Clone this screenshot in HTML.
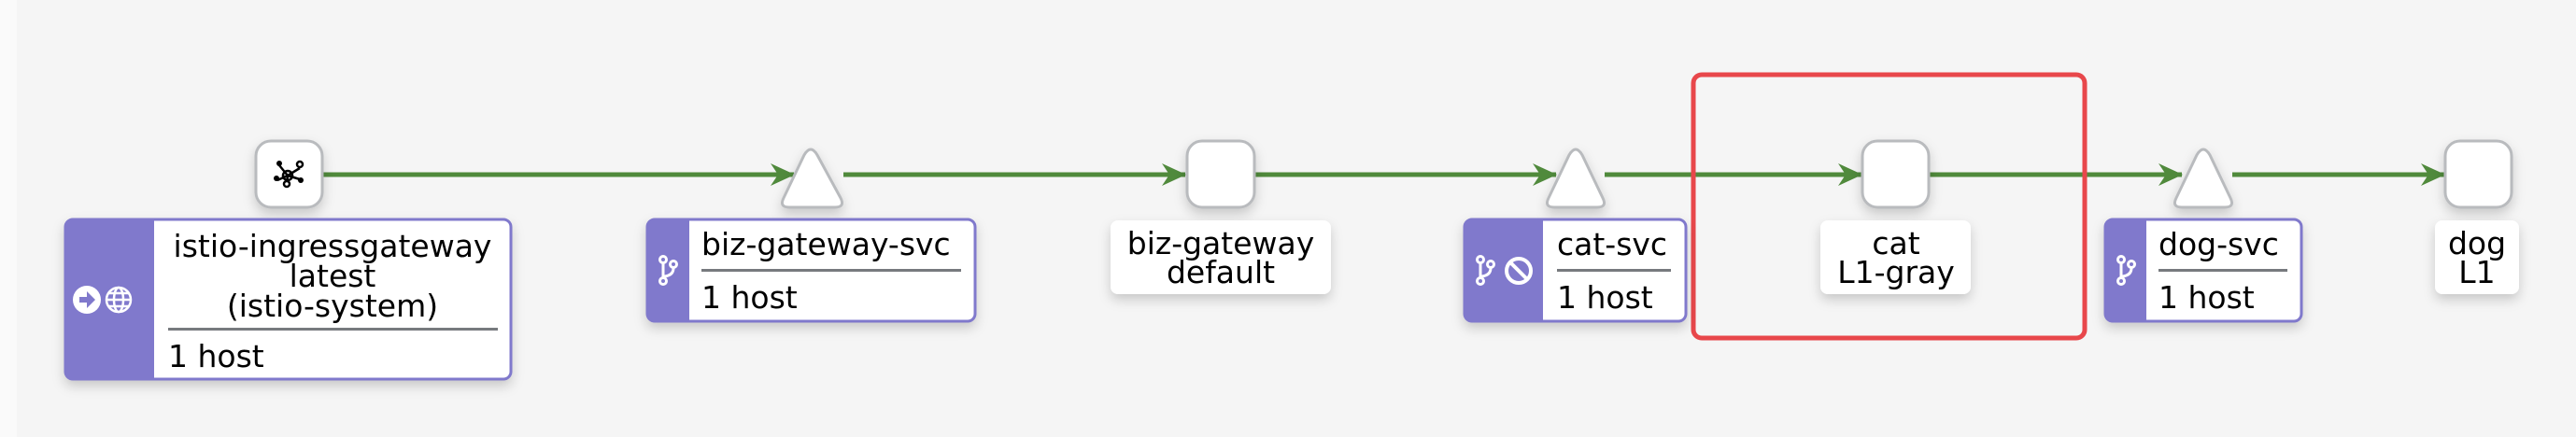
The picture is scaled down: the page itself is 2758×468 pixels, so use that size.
<!DOCTYPE html>
<html><head><meta charset="utf-8">
<style>
html,body{margin:0;padding:0;background:#f5f5f5;}
svg{display:block;}
text{font-family:"DejaVu Sans","Liberation Sans",sans-serif;font-size:33px;fill:#000;}
</style></head>
<body>
<svg width="2758" height="468" viewBox="0 0 2758 468" xmlns="http://www.w3.org/2000/svg">
<defs>
<filter id="sh" x="-20%" y="-20%" width="140%" height="160%">
<feDropShadow dx="0" dy="6" stdDeviation="6" flood-color="#000" flood-opacity="0.18"/>
</filter>
<marker id="ar" viewBox="0 0 26 26" refX="25" refY="13" markerWidth="26" markerHeight="26" markerUnits="userSpaceOnUse" orient="auto">
<path d="M0,1 L26,13 L0,25 L8,13 Z" fill="#508a3c"/>
</marker>
</defs>
<rect x="0" y="0" width="2758" height="468" fill="#f5f5f5"/>
<rect x="0" y="0" width="18" height="468" fill="#fafafa"/>

<!-- edges -->
<g stroke="#508a3c" stroke-width="5" fill="none">
<line x1="346" y1="187" x2="850" y2="187" marker-end="url(#ar)"/>
<line x1="903" y1="187" x2="1269" y2="187" marker-end="url(#ar)"/>
<line x1="1344" y1="187" x2="1666" y2="187" marker-end="url(#ar)"/>
<line x1="1718" y1="187" x2="1993" y2="187" marker-end="url(#ar)"/>
<line x1="2066" y1="187" x2="2336" y2="187" marker-end="url(#ar)"/>
<line x1="2390" y1="187" x2="2617" y2="187" marker-end="url(#ar)"/>
</g>

<!-- top nodes -->
<g fill="#fff" stroke="#b9bbbe" stroke-width="3">
<rect x="274" y="151" width="71" height="71" rx="16" filter="url(#sh)"/>
<rect x="1271" y="151" width="72" height="71" rx="16" filter="url(#sh)"/>
<rect x="1994" y="151" width="71" height="71" rx="16" filter="url(#sh)"/>
<rect x="2618" y="151" width="71" height="71" rx="16" filter="url(#sh)"/>
<path d="M861,166 Q868,154 875,166 L900,212 Q905,222 894,222 L845,222 Q834,222 839,212 Z" filter="url(#sh)"/>
<path d="M1680,166 Q1687,154 1694,166 L1716,212 Q1721,222 1710,222 L1664,222 Q1653,222 1658,212 Z" filter="url(#sh)"/>
<path d="M2352,166 Q2359,154 2366,166 L2388,212 Q2393,222 2382,222 L2336,222 Q2325,222 2330,212 Z" filter="url(#sh)"/>
</g>
<!-- ingress gateway icon -->
<g fill="none" stroke="#000" stroke-width="2.5">
<circle cx="308" cy="188" r="5"/>
<line x1="308" y1="188" x2="299" y2="177"/><line x1="308" y1="188" x2="321" y2="180"/>
<line x1="308" y1="188" x2="297" y2="193"/><line x1="308" y1="188" x2="321" y2="192"/>
<line x1="308" y1="188" x2="307" y2="197"/>
<circle cx="321" cy="176" r="3" fill="#fff"/><circle cx="307" cy="197" r="3" fill="#fff"/>
</g>
<g fill="#000"><circle cx="299" cy="175" r="3"/><circle cx="296" cy="191" r="3"/><circle cx="322" cy="193" r="3"/></g>

<!-- red selection box -->
<rect x="1813" y="80" width="419" height="282" rx="9" fill="none" stroke="#e8474b" stroke-width="5"/>

<!-- istio-ingressgateway -->
<g filter="url(#sh)">
<rect x="70" y="235" width="477" height="171" rx="8" fill="#fff" stroke="#8079cc" stroke-width="3"/>
<path d="M78,235 L165,235 L165,406 L78,406 Q70,406 70,398 L70,243 Q70,235 78,235 Z" fill="#8079cc"/>
</g>
<circle cx="93" cy="321" r="15" fill="#fff"/>
<path d="M85,318 L93,318 L93,312 L102,321 L93,330 L93,324 L85,324 Z" fill="#8079cc"/>
<g stroke="#fff" stroke-width="2.5" fill="none">
<circle cx="127" cy="321" r="13"/><ellipse cx="127" cy="321" rx="5" ry="13"/>
<line x1="114" y1="321" x2="140" y2="321"/><line x1="116" y1="314" x2="138" y2="314"/><line x1="116" y1="328" x2="138" y2="328"/>
</g>
<text x="356" y="275" text-anchor="middle">istio-ingressgateway</text>
<text x="356" y="307" text-anchor="middle">latest</text>
<text x="356" y="339" text-anchor="middle">(istio-system)</text>
<rect x="180" y="351" width="353" height="3" fill="#777a7e"/>
<text x="180" y="393">1 host</text>

<!-- service boxes -->
<g filter="url(#sh)">
<rect x="693" y="235" width="351" height="109" rx="8" fill="#fff" stroke="#8079cc" stroke-width="3"/>
<path d="M701,235 L738,235 L738,344 L701,344 Q693,344 693,336 L693,243 Q693,235 701,235 Z" fill="#8079cc"/>
<rect x="1568" y="235" width="237" height="109" rx="8" fill="#fff" stroke="#8079cc" stroke-width="3"/>
<path d="M1576,235 L1652,235 L1652,344 L1576,344 Q1568,344 1568,336 L1568,243 Q1568,235 1576,235 Z" fill="#8079cc"/>
<rect x="2254" y="235" width="210" height="109" rx="8" fill="#fff" stroke="#8079cc" stroke-width="3"/>
<path d="M2262,235 L2298,235 L2298,344 L2262,344 Q2254,344 2254,336 L2254,243 Q2254,235 2262,235 Z" fill="#8079cc"/>
</g>
<!-- branch icons -->
<g stroke="#fff" stroke-width="3" fill="none">
<g transform="translate(715,289)"><circle cx="-5" cy="-11" r="3.5"/><circle cx="6" cy="-6" r="3.5"/><circle cx="-5" cy="12" r="3.5"/><line x1="-5" y1="-7" x2="-5" y2="8"/><path d="M6,-2 Q6,6 -4,7"/></g>
<g transform="translate(1590,289)"><circle cx="-5" cy="-11" r="3.5"/><circle cx="6" cy="-6" r="3.5"/><circle cx="-5" cy="12" r="3.5"/><line x1="-5" y1="-7" x2="-5" y2="8"/><path d="M6,-2 Q6,6 -4,7"/></g>
<g transform="translate(2276,289)"><circle cx="-5" cy="-11" r="3.5"/><circle cx="6" cy="-6" r="3.5"/><circle cx="-5" cy="12" r="3.5"/><line x1="-5" y1="-7" x2="-5" y2="8"/><path d="M6,-2 Q6,6 -4,7"/></g>
<circle cx="1626" cy="290" r="13" stroke-width="4"/><line x1="1617" y1="281" x2="1635" y2="299" stroke-width="4"/>
</g>
<text x="751" y="273">biz-gateway-svc</text>
<rect x="751" y="288" width="278" height="3" fill="#777a7e"/>
<text x="751" y="330">1 host</text>
<text x="1667" y="273">cat-svc</text>
<rect x="1667" y="288" width="122" height="3" fill="#777a7e"/>
<text x="1667" y="330">1 host</text>
<text x="2311" y="273">dog-svc</text>
<rect x="2311" y="288" width="138" height="3" fill="#777a7e"/>
<text x="2311" y="330">1 host</text>

<!-- workload labels -->
<g fill="#fff" filter="url(#sh)">
<rect x="1189" y="236" width="236" height="79" rx="8"/>
<rect x="1949" y="236" width="161" height="79" rx="8"/>
<rect x="2607" y="236" width="90" height="79" rx="8"/>
</g>
<text x="1307" y="272" text-anchor="middle">biz-gateway</text>
<text x="1307" y="303" text-anchor="middle">default</text>
<text x="2030" y="272" text-anchor="middle">cat</text>
<text x="2030" y="303" text-anchor="middle">L1-gray</text>
<text x="2652" y="272" text-anchor="middle">dog</text>
<text x="2652" y="303" text-anchor="middle">L1</text>
</svg>
</body></html>
